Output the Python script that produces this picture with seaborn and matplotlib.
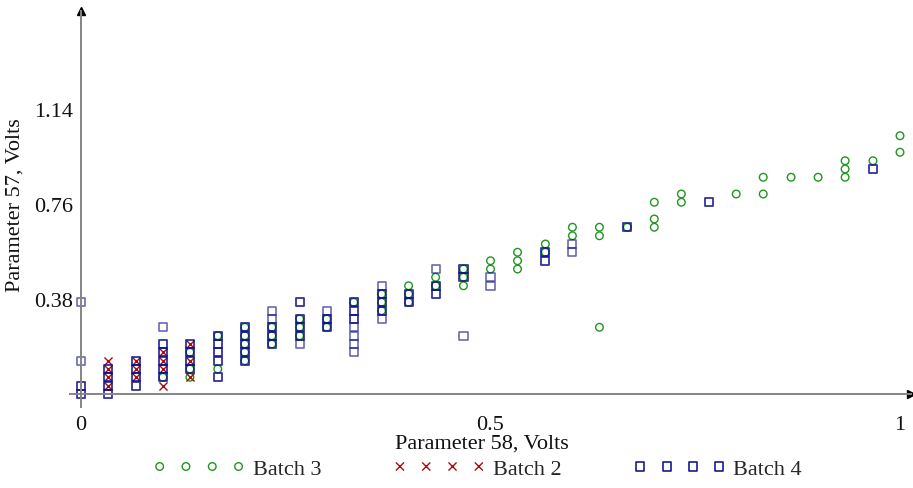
import numpy as np
import pandas as pd
import matplotlib
matplotlib.use("Agg")
import matplotlib.pyplot as plt
import seaborn as sns

# ---------------- data ----------------
# Batch 3 (green circles)
b3_x = [0.1, 0.133, 0.133, 0.133, 0.167, 0.167,
        0.2, 0.2, 0.2, 0.2, 0.2,
        0.233, 0.233, 0.233, 0.267, 0.267, 0.267,
        0.3, 0.3, 0.333, 0.367, 0.367, 0.367,
        0.4, 0.4, 0.4, 0.433, 0.433, 0.467, 0.467, 0.467,
        0.5, 0.5, 0.533, 0.533, 0.533, 0.567, 0.567,
        0.6, 0.6, 0.633, 0.633, 0.633, 0.667,
        0.7, 0.7, 0.7, 0.733, 0.733, 0.8, 0.833, 0.833,
        0.867, 0.9, 0.933, 0.933, 0.933, 0.967, 1.0, 1.0]
b3_y = [0.067, 0.167, 0.1, 0.067, 0.233, 0.1,
        0.267, 0.233, 0.2, 0.167, 0.133,
        0.267, 0.233, 0.2, 0.3, 0.267, 0.233,
        0.3, 0.267, 0.367, 0.4, 0.367, 0.333,
        0.433, 0.4, 0.367, 0.467, 0.433, 0.5, 0.467, 0.433,
        0.533, 0.5, 0.567, 0.533, 0.5, 0.6, 0.567,
        0.667, 0.633, 0.667, 0.633, 0.267, 0.667,
        0.767, 0.7, 0.667, 0.8, 0.767, 0.8, 0.867, 0.8,
        0.867, 0.867, 0.933, 0.9, 0.867, 0.933, 1.033, 0.967]

# Batch 2 (red crosses)
b2_x = [0.033, 0.033, 0.033, 0.033, 0.067, 0.067, 0.067,
        0.1, 0.1, 0.1, 0.1, 0.133, 0.133, 0.133]
b2_y = [0.133, 0.1, 0.067, 0.033, 0.133, 0.1, 0.067,
        0.167, 0.133, 0.1, 0.033, 0.2, 0.133, 0.067]

# Batch 4 (blue squares); repeated entries are overlapping duplicates
b4_x = [0.0, 0.0, 0.0, 0.0, 0.0, 0.0,
        0.033, 0.033, 0.033, 0.033, 0.033, 0.033, 0.033, 0.033,
        0.067, 0.067, 0.067, 0.067, 0.067, 0.067, 0.067, 0.067,
        0.1, 0.1, 0.1, 0.1, 0.1, 0.1, 0.1, 0.1, 0.1, 0.1, 0.1,
        0.133, 0.133, 0.133, 0.133, 0.133, 0.133, 0.133, 0.133,
        0.167, 0.167, 0.167, 0.167, 0.167, 0.167, 0.167, 0.167, 0.167, 0.167,
        0.2, 0.2, 0.2, 0.2, 0.2, 0.2, 0.2, 0.2, 0.2, 0.2,
        0.233, 0.233, 0.233, 0.233, 0.233, 0.233, 0.233, 0.233,
        0.267, 0.267, 0.267, 0.267, 0.267, 0.267, 0.267, 0.267, 0.267,
        0.3, 0.3, 0.3, 0.3, 0.3,
        0.333, 0.333, 0.333, 0.333, 0.333, 0.333, 0.333, 0.333, 0.333, 0.333,
        0.367, 0.367, 0.367, 0.367, 0.367, 0.367, 0.367, 0.367,
        0.4, 0.4, 0.4, 0.4,
        0.433, 0.433, 0.433, 0.433, 0.433,
        0.467, 0.467, 0.467, 0.467, 0.467,
        0.5, 0.5,
        0.567, 0.567, 0.567, 0.567,
        0.6, 0.6,
        0.667, 0.667, 0.767, 0.767, 0.967, 0.967]
b4_y = [0.367, 0.133, 0.033, 0.033, 0.0, 0.0,
        0.1, 0.1, 0.067, 0.067, 0.033, 0.033, 0.0, 0.0,
        0.133, 0.133, 0.1, 0.1, 0.067, 0.067, 0.033, 0.033,
        0.267, 0.2, 0.2, 0.167, 0.167, 0.133, 0.133, 0.1, 0.1, 0.067, 0.067,
        0.2, 0.2, 0.167, 0.167, 0.133, 0.133, 0.1, 0.1,
        0.233, 0.233, 0.2, 0.2, 0.167, 0.167, 0.133, 0.133, 0.067, 0.067,
        0.267, 0.267, 0.233, 0.233, 0.2, 0.2, 0.167, 0.167, 0.133, 0.133,
        0.333, 0.3, 0.267, 0.267, 0.233, 0.233, 0.2, 0.2,
        0.367, 0.367, 0.3, 0.3, 0.267, 0.267, 0.233, 0.233, 0.2,
        0.333, 0.3, 0.3, 0.267, 0.267,
        0.367, 0.367, 0.333, 0.333, 0.3, 0.3, 0.267, 0.233, 0.2, 0.167,
        0.433, 0.4, 0.4, 0.367, 0.367, 0.333, 0.333, 0.3,
        0.4, 0.4, 0.367, 0.367,
        0.5, 0.433, 0.433, 0.4, 0.4,
        0.5, 0.5, 0.467, 0.467, 0.233,
        0.467, 0.433,
        0.567, 0.567, 0.533, 0.533,
        0.6, 0.567,
        0.667, 0.667, 0.767, 0.767, 0.9, 0.9]

x_ticks = [0, 0.5, 1]
x_tick_labels = ["0", "0.5", "1"]
y_ticks = [0.38, 0.76, 1.14]
y_tick_labels = ["0.38", "0.76", "1.14"]

GREEN = "#1f961f"
RED = "#a80c0c"
BLUE = "#10108c"
FS = 16

# ---------------- figure ----------------
sns.set_style("white")
plt.rcParams["font.family"] = ["Liberation Serif", "DejaVu Serif"]
plt.rcParams["font.size"] = FS

W, H = 913, 489
fig = plt.figure(figsize=(W / 100, H / 100), dpi=100)
ax = fig.add_axes([70 / W, 1 - 407.5 / H, 841 / W, 395.5 / H])

sns.scatterplot(x=b3_x, y=b3_y, marker="o", s=30, facecolor="none",
                edgecolor=GREEN, linewidth=1.0, label="Batch 3", ax=ax)
sns.scatterplot(x=b2_x, y=b2_y, marker="x", s=34, color=RED,
                linewidth=1.0, label="Batch 2", ax=ax)
sns.scatterplot(x=b4_x, y=b4_y, marker="s", s=34, facecolor="none",
                edgecolor=BLUE, linewidth=1.15, alpha=0.65, label="Batch 4", ax=ax)

ax.set_xlim(-11 / 819, 830 / 819)
ax.set_ylim(-0.05, 383 / 250)

for s in ["top", "right"]:
    ax.spines[s].set_visible(False)
for s in ["left", "bottom"]:
    ax.spines[s].set_position(("data", 0))
    ax.spines[s].set_color("#858585")
    ax.spines[s].set_linewidth(1.4)

ax.set_xticks(x_ticks)
ax.set_xticklabels(x_tick_labels)
ax.set_yticks(y_ticks)
ax.set_yticklabels(y_tick_labels)
ax.tick_params(axis="both", direction="inout", length=4, width=1,
               color="#555555", labelsize=FS, labelcolor="#111111")
ax.tick_params(axis="x", pad=13)
ax.tick_params(axis="y", pad=4)

# arrow heads at the ends of the axes
ax.plot([1], [0], marker=">", color="black", markersize=6,
        transform=ax.get_yaxis_transform(), clip_on=False)
ax.plot([0], [1], marker="^", color="black", markersize=6,
        transform=ax.get_xaxis_transform(), clip_on=False)

ax.set_xlabel("Parameter 58, Volts", fontsize=FS, color="#111111")
ax.set_ylabel("Parameter 57, Volts", fontsize=FS, color="#111111")
ax.xaxis.set_label_coords((482 - 70) / 841, (407.5 - 444) / 395.5)
ax.xaxis.label.set_va("center")
ax.yaxis.set_label_coords((15 - 70) / 841, (407.5 - 205.5) / 395.5)
ax.yaxis.label.set_va("center")

ax.get_legend().remove()
handles, labels = ax.get_legend_handles_labels()
leg = fig.legend(handles, labels, loc="center left",
                 bbox_to_anchor=(153 / W, 1 - 470 / H), ncol=3,
                 frameon=False, scatterpoints=4, scatteryoffsets=[0.5],
                 handlelength=4.15, handletextpad=0.33, columnspacing=3.25,
                 borderpad=0, borderaxespad=0, fontsize=FS)
for h in leg.legend_handles:
    h.set_alpha(1)

fig.savefig("out.png", dpi=100)
